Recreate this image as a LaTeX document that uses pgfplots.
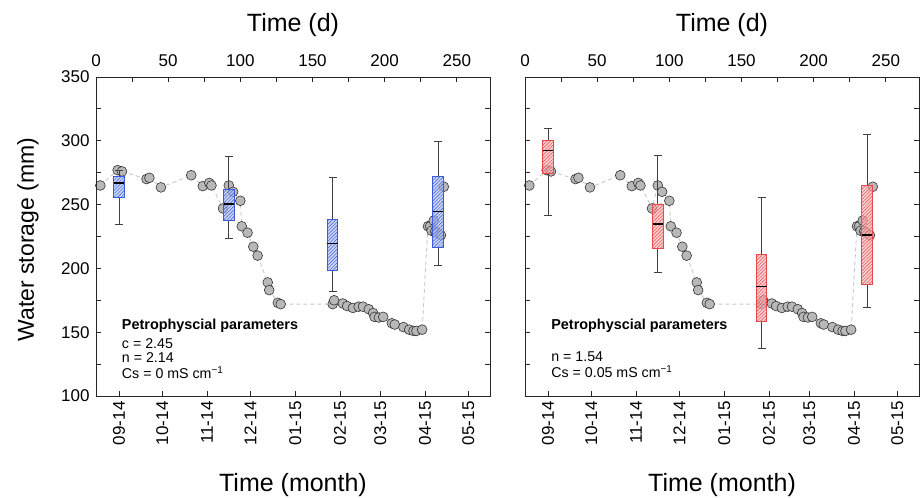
\documentclass[border=0pt]{standalone}
\usepackage{fontspec}
\setmainfont{Liberation Sans}
\usepackage{pgfplots}
\usepackage{pgfplotstable}
\pgfplotsset{compat=1.18}
\usepgfplotslibrary{statistics}
\usetikzlibrary{patterns.meta}

\definecolor{bedge}{HTML}{3B5BDB}
\definecolor{bfill}{HTML}{B2C0F2}
\definecolor{redge}{HTML}{E5484D}
\definecolor{rfill}{HTML}{F7BABA}
\definecolor{ptfill}{HTML}{B8B8B8}
\definecolor{ptedge}{HTML}{333333}
\definecolor{linegray}{HTML}{C8C8C8}

% observed water storage (day since 16 Aug 2014, mm)
\pgfplotstableread{
day ws
3 265
15 277
18 276
35 270
37 271
45 263.5
66 273
74 264.5
78.5 267
80 265
88 247
92 265
95 260
100 253
101 233
105 228
109 217
112 210
119 189
120 183
126 173
128 172
164 172
165 175
171 172.5
174 170.5
178 169
182 170
185 170
189 168
192 165
193 162
196 161.5
199 162
205 157
207 156
213 154
217 152
220 151
222 151
226 152
230 233
231.5 233
232.5 229.5
234 237.5
235 229
236 228
239 226
241 264
}\storage

\newcommand\params[1]{{\def\arraystretch{1}\begin{tabular}[t]{@{}l@{}}#1\end{tabular}}}

\tikzset{
  head/.style={anchor=base west, font=\fontsize{14.4}{16}\selectfont\bfseries},
  body/.style={anchor=base west, font=\fontsize{14.2}{13.4}\selectfont},
}

\pgfplotsset{
  panel/.style={scale only axis, width=394pt, height=319pt,
    xmin=0, xmax=273, ymin=100, ymax=350, clip mode=individual,
    tick align=inside, major tick length=5pt, minor tick length=5pt,
    axis line style={black!85, line width=0.9pt},
    tick style={black!85, line width=0.8pt},
    /pgf/number format/assume math mode=true,
    tick label style={font=\fontsize{17}{20}\selectfont},
    label style={font=\fontsize{25}{28}\selectfont}},
  dayaxis/.style={panel,
    xtick={0,50,...,250}, minor x tick num=1,
    xtick pos=right, xticklabel pos=right,
    ytick={100,150,...,350}, minor y tick num=1,
    xlabel={Time (d)},
    xlabel style={at={(axis description cs:0.5,1.163)}, anchor=center},
    xticklabel style={yshift=7pt},
    yticklabel style={xshift=-3pt}},
  monthaxis/.style={panel, ytick=\empty,
    xtick={16,46,77,107,138,169,197,228,258},
    xticklabels={09-14,10-14,11-14,12-14,01-15,02-15,03-15,04-15,05-15},
    xtick pos=left, xticklabel pos=left,
    xticklabel style={rotate=90, anchor=east, xshift=-2pt},
    xlabel={Time (month)},
    xlabel style={at={(axis description cs:0.5,-0.279)}, anchor=center}},
  obs/.style={linegray, line width=0.9pt, dash pattern=on 4pt off 3pt,
    mark=*, mark size=4.9pt,
    mark options={solid, fill=ptfill, draw=ptedge, line width=0.6pt}},
  bx/.style n args={2}{draw=black!75, line width=0.8pt,
    boxplot/draw direction=y, boxplot/box extend=7.2, boxplot/whisker extend=5.6,
    boxplot/every box/.style={draw=#1, line width=0.8pt, fill=#2, fill opacity=0.7,
      postaction={fill opacity=0.9, pattern={Lines[angle=45, distance=2.4pt, line width=0.45pt]}, pattern color=#1}},
    boxplot/every median/.style={draw=black, line width=1.7pt}},
}

\begin{document}
\begin{tikzpicture}
% left panel
\begin{axis}[dayaxis, at={(96pt,102pt)}, anchor=south west,
  ylabel={Water storage (mm)},
  ylabel style={at={(axis description cs:-0.1726,0.49)}, anchor=center, font=\fontsize{23}{26}\selectfont}]
\addplot[obs] table[x=day, y=ws] {\storage};
\addplot[bx={bedge}{bfill}, boxplot prepared={draw position=16,
  lower whisker=234.5, lower quartile=255.7, median=267.2, upper quartile=272.4, upper whisker=277}] coordinates {};
\addplot[bx={bedge}{bfill}, boxplot prepared={draw position=92,
  lower whisker=223.6, lower quartile=237.4, median=250.5, upper quartile=262, upper whisker=288.1}] coordinates {};
\addplot[bx={bedge}{bfill}, boxplot prepared={draw position=164,
  lower whisker=182.3, lower quartile=198.7, median=219.4, upper quartile=238.5, upper whisker=271.1}] coordinates {};
\addplot[bx={bedge}{bfill}, boxplot prepared={draw position=237,
  lower whisker=202.4, lower quartile=216.8, median=244.5, upper quartile=271.9, upper whisker=299.3}] coordinates {};
\node[head] at (axis description cs:0.057,0.209) {Petrophyscial parameters};
\node[body] at (axis description cs:0.057,0.1495) {\params{c = 2.45\\n = 2.14\\Cs = 0 mS cm\textsuperscript{−1}}};
\end{axis}
\begin{axis}[monthaxis, at={(96pt,102pt)}, anchor=south west]
\end{axis}

% right panel
\begin{axis}[dayaxis, at={(525pt,102pt)}, anchor=south west, yticklabels=\empty]
\addplot[obs] table[x=day, y=ws] {\storage};
\addplot[bx={redge}{rfill}, boxplot prepared={draw position=16,
  lower whisker=241.8, lower quartile=274.5, median=292.5, upper quartile=300.6, upper whisker=309.5}] coordinates {};
\addplot[bx={redge}{rfill}, boxplot prepared={draw position=92,
  lower whisker=197.2, lower quartile=215.7, median=234.6, upper quartile=250.5, upper whisker=288.9}] coordinates {};
\addplot[bx={redge}{rfill}, boxplot prepared={draw position=164,
  lower whisker=137.4, lower quartile=158.3, median=185.9, upper quartile=211, upper whisker=255.7}] coordinates {};
\addplot[bx={redge}{rfill}, boxplot prepared={draw position=237,
  lower whisker=169.2, lower quartile=187.8, median=226.4, upper quartile=264.8, upper whisker=305.3}] coordinates {};
\node[head] at (axis description cs:0.058,0.209) {Petrophyscial parameters};
\node[body] at (axis description cs:0.058,0.1075) {\params{n = 1.54\\Cs = 0.05 mS cm\textsuperscript{−1}}};
\end{axis}
\begin{axis}[monthaxis, at={(525pt,102pt)}, anchor=south west]
\end{axis}

\pgfresetboundingbox
\path (0,0) rectangle (922pt,498pt);
\end{tikzpicture}
\end{document}
